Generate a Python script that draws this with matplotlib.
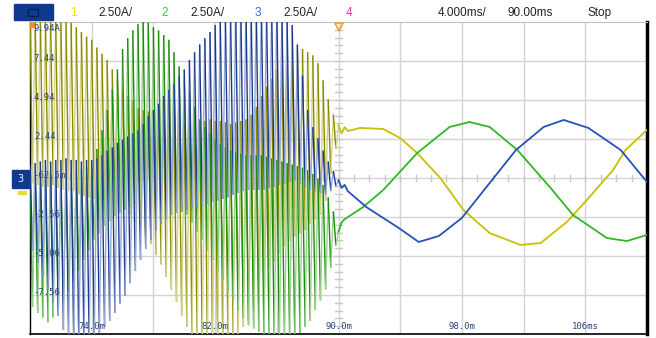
import matplotlib
matplotlib.use('Agg')
import matplotlib.pyplot as plt
import numpy as np
from matplotlib.patches import Rectangle
from matplotlib.collections import LineCollection

# ringing before 90 ms: alternating peak / trough of each cycle (A), cycle = 1/3 ms
osc_start = 70.0
osc_half = 1 / 6
yel_osc = [10.6, -0.4, 10.4, -0.5, 10.5, -0.6,  10.3, -0.6, 10.4, -0.5, 10.1, -0.7,
           10.2, -0.8, 10.0, -0.9, 9.9, -0.9,   9.6, -1.1, 9.3, -1.2, 9.0, -1.3,
           8.8, -1.4, 8.3, -1.5, 7.9, -1.5,     7.5, -1.5, 6.9, -1.6, 6.3, -1.8,
           5.6, -1.9, 5.2, -2.4, 4.9, -2.9,     4.4, -3.4, 4.3, -3.8, 4.2, -4.3,
           4.0, -5.0, 3.9, -5.6, 3.8, -6.4,     3.7, -7.2, 3.6, -8.0, 3.5, -8.9,
           3.4, -9.6, 3.4, -10.2, 3.5, -10.4,   3.6, -10.6, 3.6, -10.7, 3.7, -10.7,
           3.6, -10.7, 3.6, -10.6, 3.5, -10.5,  3.4, -10.4, 3.5, -10.1, 3.6, -9.6,
           3.7, -9.2, 4.0, -8.6, 4.5, -7.6,     5.2, -6.4, 5.8, -5.8, 6.3, -5.4,
           6.9, -4.9, 7.3, -4.4, 7.6, -4.1,     8.0, -3.8, 8.1, -3.6, 8.2, -3.4,
           8.0, -3.0, 7.8, -2.7, 7.3, -2.4,     6.2, -1.5, 5.0, 0.2, 4.0, 1.8]
grn_osc = [0.5, -8.3, 0.3, -8.7, 0.2, -9.0,    0.1, -9.3, 0.2, -9.0, 0.1, -8.5,
           0.1, -7.9, 0.2, -7.3, 0.3, -6.7,    0.4, -6.0, 0.5, -5.3, 0.6, -4.7,
           0.8, -4.0, 1.8, -3.6, 3.0, -3.1,    4.3, -2.8, 5.6, -2.5, 6.9, -2.3,
           8.2, -2.1, 8.9, -1.9, 9.4, -1.7,    9.8, -1.5, 10.0, -1.5, 9.9, -1.4,
           9.6, -1.5, 9.4, -1.6, 9.1, -1.7,    8.8, -1.8, 8.0, -2.0, 7.1, -2.2,
           6.2, -2.4, 5.4, -2.9, 4.5, -3.5,    3.7, -4.0, 3.2, -4.7, 2.8, -5.3,
           2.4, -6.0, 2.1, -6.6, 1.9, -7.3,    1.7, -7.9, 1.6, -8.5, 1.5, -9.0,
           1.4, -9.5, 1.4, -9.7, 1.4, -9.9,    1.4, -10.1, 1.3, -10.2, 1.2, -10.3,
           1.1, -10.4, 1.0, -10.4, 0.9, -10.4, 0.8, -10.4, 0.7, -10.0, 0.6, -9.6,
           0.45, -9.2, 0.2, -8.5, -0.1, -7.9,  -0.5, -7.2, -1.3, -5.8, -2.2, -4.4]
blu_osc = [0.8, -4.7, 0.9, -5.5, 1.0, -6.4,    1.1, -7.2, 1.0, -8.0, 1.1, -8.9,
           1.1, -9.8, 1.2, -10.2, 1.1, -10.5,  1.1, -10.8, 1.0, -10.7, 1.1, -10.6,
           1.1, -10.4, 1.2, -10.0, 1.4, -9.6,  1.7, -9.2, 1.9, -8.7, 2.2, -8.1,
           2.4, -7.6, 2.6, -6.8, 2.8, -6.0,    3.0, -5.3, 3.4, -4.6, 3.9, -4.0,
           4.3, -3.4, 4.7, -3.0, 5.2, -2.7,    5.6, -2.4, 6.0, -2.3, 6.5, -2.2,
           6.9, -2.1, 7.5, -2.0, 8.0, -1.9,    8.5, -1.8, 8.9, -1.7, 9.3, -1.6,
           9.75, -1.5, 10.1, -1.4, 10.4, -1.3, 10.7, -1.15, 10.8, -1.0, 10.9, -0.9,
           11.0, -0.8, 11.0, -0.8, 11.0, -0.8, 11.0, -0.8, 10.9, -0.7, 10.8, -0.6,
           10.7, -0.5, 10.4, -0.4, 10.1, -0.3, 9.75, -0.2, 8.5, -0.4, 6.5, -0.6,
           4.3, -0.8, 3.2, -0.9, 2.5, -1.0,    1.7, -1.15, 1.0, -0.9, 0.4, -0.6]

# traces after the transient (time in ms, current in A)
t_yel = [90.0, 90.2, 90.4, 90.6, 91.4, 92.9, 94.0, 95.1, 96.6, 98.1, 99.8, 101.8, 103.1, 104.8, 106.1, 107.8, 108.6, 110.0]
v_yel = [3.3, 2.8, 3.2, 2.95, 3.15, 3.08, 2.50, 1.54, -0.06, -2.11, -3.59, -4.35, -4.23, -2.88, -1.47, 0.45, 1.73, 3.02]
t_grn = [90.0, 90.2, 90.4, 91.6, 92.9, 95.1, 97.2, 98.5, 99.8, 101.6, 103.7, 105.2, 107.4, 108.7, 110.0]
v_grn = [-3.5, -2.9, -2.7, -1.92, -0.83, 1.54, 3.21, 3.53, 3.21, 1.73, -0.64, -2.43, -3.91, -4.10, -3.71]
t_blu = [90.0, 90.2, 90.4, 90.6, 91.8, 93.9, 95.2, 96.5, 98.0, 99.8, 101.5, 103.3, 104.6, 106.2, 108.3, 110.0]
v_blu = [-0.2, -0.7, -0.5, -0.9, -1.92, -3.26, -4.16, -3.78, -2.62, -0.38, 1.73, 3.21, 3.66, 3.15, 1.73, -0.32]

ylabels = ['9.94A', '7.44', '4.94', '2.44', '-62.5m', '-2.56', '-5.06', '-7.56']
xlabels = ['74.0m', '82.0m', '90.0m', '98.0m', '106ms']

W, H = 656, 338
fig = plt.figure(figsize=(W / 100, H / 100), dpi=100)
ax = fig.add_axes([30 / W, 4 / H, 617 / W, 312 / H])
ax.set_xlim(70, 110)
ax.set_ylim(-10.06, 9.94)

for x in range(74, 110, 4):
    ax.axvline(x, color='#d4d4d4', lw=1, zorder=0)
for k in range(1, 8):
    ax.axhline(9.94 - 2.5 * k, color='#d4d4d4', lw=1, zorder=0)
# small ticks on the center lines
for k in range(-20, 21):
    y = -0.06 + k * 0.5
    ax.plot([89.8, 90.2], [y, y], color='#c8c8c8', lw=1, zorder=0)
for x in range(70, 111):
    ax.plot([x, x], [-0.26, 0.14], color='#c8c8c8', lw=1, zorder=0)


def trace(osc, t_tail, v_tail, dark, light, tail_col):
    t = osc_start + osc_half * np.arange(len(osc))
    pts = np.column_stack([np.append(t, t_tail[0]), np.append(osc, v_tail[0])])
    segs = np.stack([pts[:-1], pts[1:]], axis=1)
    cols = [dark if i % 2 == 0 else light for i in range(len(segs))]
    ax.add_collection(LineCollection(segs, colors=cols, linewidths=1.0, zorder=3))
    ax.plot(t_tail, v_tail, color=tail_col, lw=1.3, zorder=3)


trace(yel_osc, t_yel, v_yel, '#8a8a00', '#d4d48c', '#c8c000')
trace(grn_osc, t_grn, v_grn, '#1e8a10', '#98d48a', '#30b820')
trace(blu_osc, t_blu, v_blu, '#1c3a8c', '#98a8d6', '#2a50b8')

mono = dict(family='DejaVu Sans Mono', fontsize=6.5, color='#2a4680')
for k, lab in enumerate(ylabels):
    ax.text(70.25, 9.94 - 2.5 * k - 0.1, lab, va='top' if k == 0 else 'bottom', ha='left', zorder=5, **mono)
for k, lab in enumerate(xlabels):
    ax.text(74 + 8 * k, -9.85, lab, ha='center', va='bottom', zorder=5, **mono)

ax.set_xticks([])
ax.set_yticks([])
ax.spines['top'].set_color('#c0c0c0')
ax.spines['right'].set_linewidth(2.5)
ax.spines['left'].set_linewidth(1)
ax.spines['bottom'].set_linewidth(1.2)

# trigger markers
ax.plot([90], [9.6], marker='v', color='#f0a030', ms=6, mfc='none', mew=1.2, clip_on=False, zorder=6)
ax.plot([70.15], [9.75], marker='s', color='#f09020', ms=3, clip_on=False, zorder=6)

# header
hf = dict(family='Liberation Sans', fontsize=8.5, va='center')
fig.patches.append(Rectangle((14 / W, 1 - 20 / H), 39 / W, 16 / H, transform=fig.transFigure,
                             color='#0f3a8c'))
fig.patches.append(Rectangle((28 / W, 1 - 16 / H), 10 / W, 7 / H, transform=fig.transFigure,
                             fill=False, ec='#06204f', lw=1))
fig.text(70 / W, 1 - 13 / H, '1', color='#e6e600', **hf)
fig.text(98 / W, 1 - 13 / H, '2.50A/', color='#222222', **hf)
fig.text(161 / W, 1 - 13 / H, '2', color='#33cc33', **hf)
fig.text(190 / W, 1 - 13 / H, '2.50A/', color='#222222', **hf)
fig.text(255 / W, 1 - 13 / H, '3', color='#4466dd', **hf)
fig.text(283 / W, 1 - 13 / H, '2.50A/', color='#222222', **hf)
fig.text(346 / W, 1 - 13 / H, '4', color='#ee3399', **hf)
fig.text(438 / W, 1 - 13 / H, '4.000ms/', color='#222222', **hf)
fig.text(508 / W, 1 - 13 / H, '90.00ms', color='#222222', **hf)
fig.text(588 / W, 1 - 13 / H, 'Stop', color='#222222', **hf)

# channel 3 ground marker
fig.patches.append(Rectangle((12 / W, 1 - 188 / H), 17 / W, 18 / H, transform=fig.transFigure,
                             color='#0f3a8c'))
fig.text(20 / W, 1 - 179 / H, '3', color='white', fontsize=7, ha='center', va='center')
fig.patches.append(Rectangle((18 / W, 1 - 194 / H), 8 / W, 3 / H, transform=fig.transFigure,
                             color='#e8e030'))

fig.savefig('out.png', dpi=100)
